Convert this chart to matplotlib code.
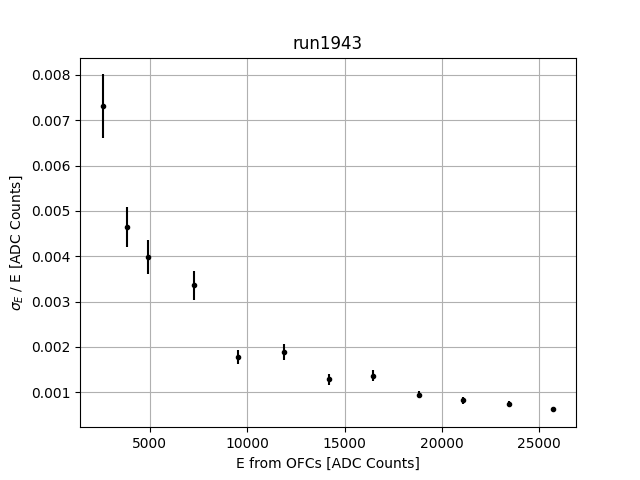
import matplotlib
matplotlib.use("Agg")
import matplotlib.pyplot as plt

# energy points from OFCs and resolution
energy = [2567, 3800, 4880, 7248, 9527, 11877, 14193, 16471, 18838, 21100, 23466, 25730]
resolution = [0.00731, 0.00465, 0.00398, 0.00336, 0.00178, 0.00189, 0.00129, 0.00136,
              0.00095, 0.00082, 0.00075, 0.00064]
res_err = [0.00070, 0.00044, 0.00038, 0.00032, 0.00016, 0.00018, 0.00012, 0.00012,
           0.00008, 0.00007, 0.00005, 0.00004]

fig, ax = plt.subplots(figsize=(6.4, 4.8), dpi=100)
ax.errorbar(energy, resolution, yerr=res_err, fmt='k.')
ax.set_title("run1943")
ax.set_xlabel("E from OFCs [ADC Counts]")
ax.set_ylabel(r"$\sigma_E$ / E [ADC Counts]")
ax.grid(True)

plt.savefig("out.png")
